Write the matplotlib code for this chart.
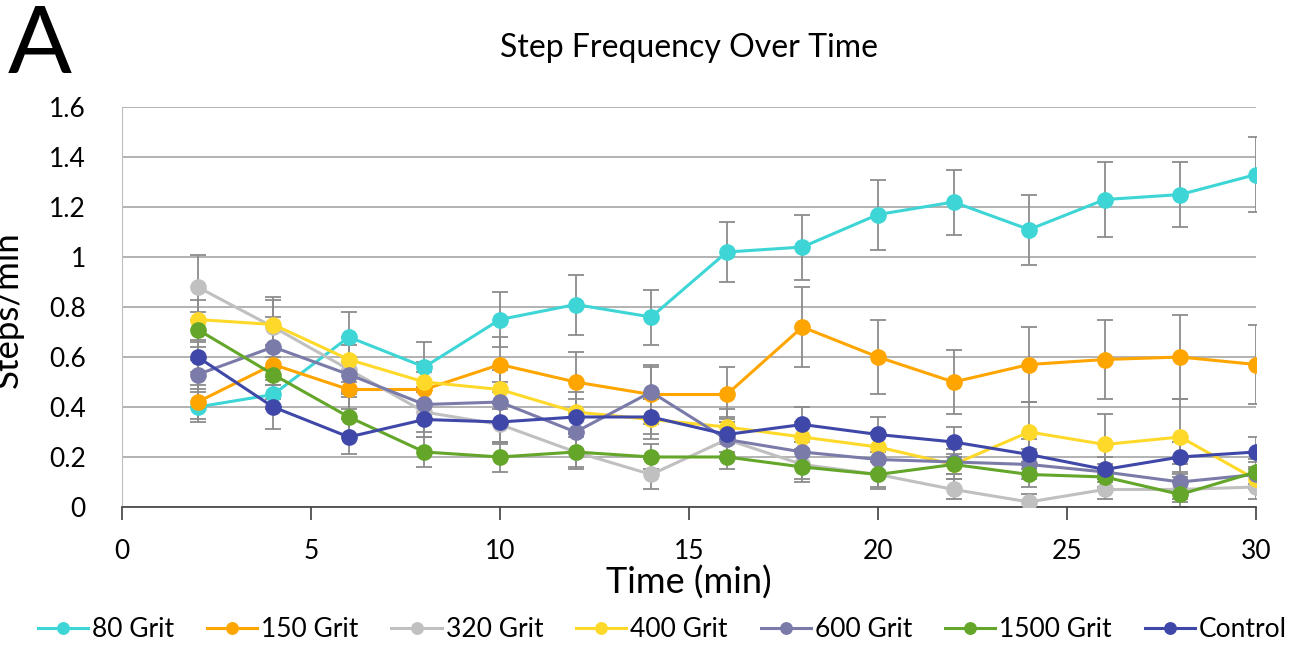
# Step frequency over time by sandpaper grit

import numpy as np
import matplotlib.pyplot as plt

plt.rcParams['font.family'] = ['Lato', 'DejaVu Sans']

time = [2, 4, 6, 8, 10, 12, 14, 16, 18, 20, 22, 24, 26, 28, 30]

grit_80 = [0.40, 0.45, 0.68, 0.56, 0.75, 0.81, 0.76, 1.02, 1.04, 1.17, 1.22, 1.11, 1.23, 1.25, 1.33]
grit_150 = [0.42, 0.57, 0.47, 0.47, 0.57, 0.50, 0.45, 0.45, 0.72, 0.60, 0.50, 0.57, 0.59, 0.60, 0.57]
grit_320 = [0.88, 0.72, 0.55, 0.38, 0.33, 0.22, 0.13, 0.27, 0.17, 0.13, 0.07, 0.02, 0.07, 0.07, 0.08]
grit_400 = [0.75, 0.73, 0.59, 0.50, 0.47, 0.38, 0.35, 0.32, 0.28, 0.24, 0.17, 0.30, 0.25, 0.28, 0.11]
grit_600 = [0.53, 0.64, 0.53, 0.41, 0.42, 0.30, 0.46, 0.27, 0.22, 0.19, 0.18, 0.17, 0.14, 0.10, 0.13]
grit_1500 = [0.71, 0.53, 0.36, 0.22, 0.20, 0.22, 0.20, 0.20, 0.16, 0.13, 0.17, 0.13, 0.12, 0.05, 0.14]
control = [0.60, 0.40, 0.28, 0.35, 0.34, 0.36, 0.36, 0.29, 0.33, 0.29, 0.26, 0.21, 0.15, 0.20, 0.22]

err_80 = [0.06, 0.06, 0.10, 0.10, 0.11, 0.12, 0.11, 0.12, 0.13, 0.14, 0.13, 0.14, 0.15, 0.13, 0.15]
err_150 = [0.07, 0.08, 0.08, 0.07, 0.11, 0.12, 0.12, 0.11, 0.16, 0.15, 0.13, 0.15, 0.16, 0.17, 0.16]
err_320 = [0.13, 0.12, 0.10, 0.08, 0.08, 0.07, 0.06, 0.07, 0.06, 0.05, 0.04, 0.03, 0.04, 0.05, 0.05]
err_400 = [0.08, 0.10, 0.09, 0.08, 0.08, 0.08, 0.08, 0.07, 0.06, 0.06, 0.06, 0.12, 0.12, 0.15, 0.04]
err_600 = [0.06, 0.12, 0.07, 0.07, 0.08, 0.07, 0.10, 0.08, 0.06, 0.05, 0.05, 0.06, 0.06, 0.07, 0.05]
err_1500 = [0.07, 0.10, 0.08, 0.06, 0.06, 0.06, 0.05, 0.05, 0.06, 0.06, 0.04, 0.05, 0.05, 0.05, 0.05]
err_control = [0.06, 0.09, 0.07, 0.07, 0.08, 0.07, 0.07, 0.07, 0.07, 0.07, 0.06, 0.06, 0.05, 0.06, 0.06]

labels = ['80 Grit', '150 Grit', '320 Grit', '400 Grit', '600 Grit', '1500 Grit', 'Control']
series = [grit_80, grit_150, grit_320, grit_400, grit_600, grit_1500, control]
errors = [err_80, err_150, err_320, err_400, err_600, err_1500, err_control]
colors = ['#3DD5D5', '#FFA500', '#C0C0C0', '#FFD92A', '#7B7BAA', '#63A629', '#3F48A8']

fig = plt.figure(figsize=(13.04, 6.45), dpi=100)
ax = fig.add_axes([0.0936, 0.214, 0.8695, 0.620])

for y, e, c, lab in zip(series, errors, colors, labels):
    ax.errorbar(time, y, yerr=e, fmt='none', ecolor='#8C8C8C', elinewidth=1.3,
                capsize=6, capthick=1.3, zorder=2)
    ax.plot(time, y, color=c, lw=2.2, marker='o', ms=11, label=lab, zorder=3)

ax.set_xlim(0, 30)
ax.set_ylim(0, 1.6)
ax.set_xticks(range(0, 31, 5))
ax.set_yticks(np.arange(0, 1.61, 0.2))
ax.set_yticklabels(['0', '0.2', '0.4', '0.6', '0.8', '1', '1.2', '1.4', '1.6'])
ax.grid(axis='y', color='#A6A6A6', lw=1.2)
ax.set_axisbelow(True)

for s in ['top', 'right']:
    ax.spines[s].set_visible(False)
ax.spines['left'].set_color('#BFBFBF')
ax.spines['bottom'].set_color('#404040')
ax.spines['bottom'].set_linewidth(1.2)
ax.tick_params(axis='y', length=0, labelsize=19, pad=26)
ax.tick_params(axis='x', direction='out', length=9, width=1.2, color='#404040',
               labelsize=19, pad=14)

ax.set_title('Step Frequency Over Time', fontsize=23, pad=36)
ax.set_xlabel('Time (min)', fontsize=26, labelpad=1)
fig.text(-0.006, 0.52, 'Steps/min', rotation=90, fontsize=25, ha='left', va='center')
fig.text(0.006, 0.993, 'A', fontsize=68, ha='left', va='top')

fig.legend(loc='lower center', bbox_to_anchor=(0.508, -0.032), ncol=7, frameon=False,
           fontsize=19, handlelength=1.9, handletextpad=0.15, columnspacing=1.25,
           markerscale=0.75)

fig.savefig('out.png', dpi=100)
